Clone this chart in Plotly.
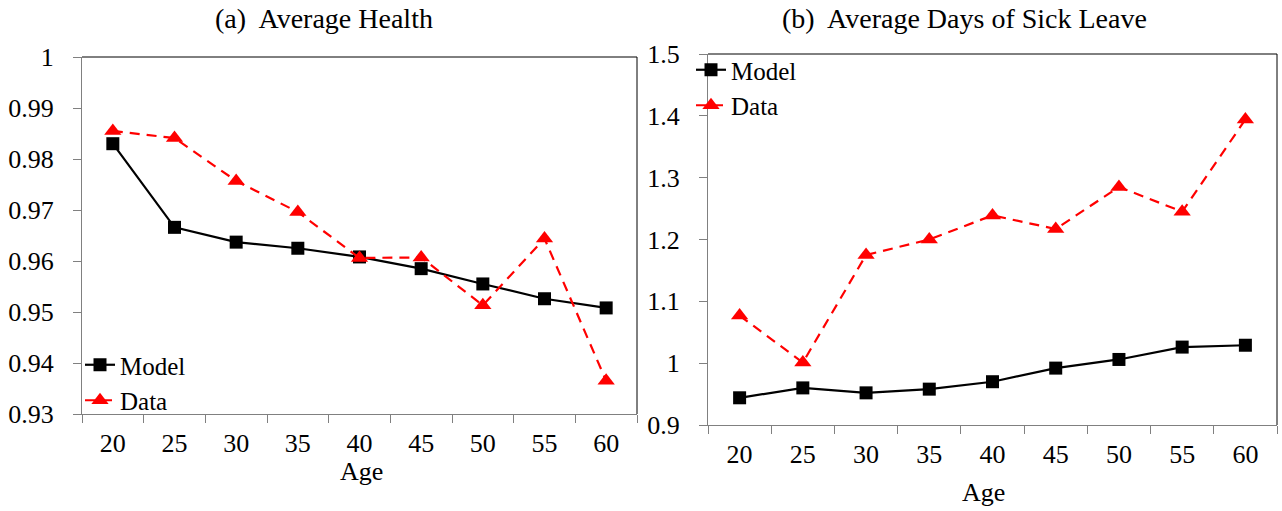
import plotly.graph_objects as go

ages = ["20", "25", "30", "35", "40", "45", "50", "55", "60"]
health_model = [0.983, 0.9666, 0.9637, 0.9625, 0.9608, 0.9585, 0.9555, 0.9526, 0.9508]
health_data = [0.9855, 0.9841, 0.9757, 0.9696, 0.9606, 0.9607, 0.9513, 0.9644, 0.9365]
sick_model = [0.944, 0.960, 0.952, 0.958, 0.970, 0.992, 1.006, 1.026, 1.029]
sick_data = [1.077, 1.001, 1.175, 1.200, 1.239, 1.217, 1.285, 1.245, 1.394]

health_ticks = [0.93, 0.94, 0.95, 0.96, 0.97, 0.98, 0.99, 1.0]
health_ticktext = ["0.93", "0.94", "0.95", "0.96", "0.97", "0.98", "0.99", "1"]
sick_ticks = [0.9, 1.0, 1.1, 1.2, 1.3, 1.4, 1.5]
sick_ticktext = ["0.9", "1", "1.1", "1.2", "1.3", "1.4", "1.5"]

W, H = 1282, 511
FONT = "Liberation Serif"
GRAY = "#808080"

fig = go.Figure()

def add_pair(xa, ya, model, data, leg):
    fig.add_trace(go.Scatter(
        x=ages, y=model, name="Model", mode="lines+markers",
        line=dict(color="black", width=2.2),
        marker=dict(symbol="square", size=13, color="black"),
        xaxis=xa, yaxis=ya, legend=leg))
    fig.add_trace(go.Scatter(
        x=ages, y=data, name="Data", mode="lines+markers",
        line=dict(color="#ff0000", width=2.2, dash="10px,7px"),
        marker=dict(symbol="triangle-up", size=15, color="#ff0000"),
        xaxis=xa, yaxis=ya, legend=leg))

add_pair("x", "y", health_model, health_data, "legend")
add_pair("x2", "y2", sick_model, sick_data, "legend2")

# pixel-based domains
L1, R1, T1, B1 = 82, 637, 57, 414
L2, R2, T2, B2 = 708, 1277, 54, 425

def xd(a, b):
    return [a / W, b / W]

def yd(t, b):
    return [(H - b) / H, (H - t) / H]

xaxis_common = dict(
    type="category", tickson="boundaries", ticks="outside", ticklen=8,
    tickcolor=GRAY, showline=True, linecolor=GRAY, linewidth=1,
    showgrid=False, zeroline=False, range=[-0.5, 8.5], automargin=False,
    tickfont=dict(family=FONT, size=26, color="black"),
    ticklabelstandoff=6,
)
yaxis_common = dict(
    ticks="outside", ticklen=8, tickcolor=GRAY, showline=True, linecolor=GRAY,
    linewidth=1, showgrid=False, zeroline=False, tickmode="array", automargin=False,
    tickfont=dict(family=FONT, size=26, color="black"),
    ticklabelstandoff=14,
)

fig.update_layout(
    width=W, height=H,
    margin=dict(l=0, r=0, t=0, b=0, pad=0, autoexpand=False),
    paper_bgcolor="white", plot_bgcolor="white",
    xaxis=dict(domain=xd(L1, R1), anchor="y", **xaxis_common),
    yaxis=dict(domain=yd(T1, B1), anchor="x", range=[0.93, 1.0],
               tickvals=health_ticks, ticktext=health_ticktext, **yaxis_common),
    xaxis2=dict(domain=xd(L2, R2), anchor="y2", **xaxis_common),
    yaxis2=dict(domain=yd(T2, B2), anchor="x2", range=[0.9, 1.5],
                tickvals=sick_ticks, ticktext=sick_ticktext, **yaxis_common),
    legend=dict(x=(L1 - 2) / W, y=(H - 342) / H, xanchor="left", yanchor="top",
                bgcolor="rgba(0,0,0,0)", font=dict(family=FONT, size=25, color="black"),
                itemwidth=30, tracegroupgap=0),
    legend2=dict(x=(L2 - 17) / W, y=(H - 47) / H, xanchor="left", yanchor="top",
                 bgcolor="rgba(0,0,0,0)", font=dict(family=FONT, size=25, color="black"),
                 itemwidth=30, tracegroupgap=0),
    showlegend=True,
)

# black top/right frame
for (l, r, t, b) in [(L1, R1, T1, B1), (L2, R2, T2, B2)]:
    fig.add_shape(type="line", xref="paper", yref="paper",
                  x0=l / W, x1=r / W, y0=(H - t) / H, y1=(H - t) / H,
                  line=dict(color="black", width=1))
    fig.add_shape(type="line", xref="paper", yref="paper",
                  x0=r / W, x1=r / W, y0=(H - t) / H, y1=(H - b) / H,
                  line=dict(color="black", width=1))

def ann(text, xpx, ypx, size):
    fig.add_annotation(text=text, x=xpx / W, y=(H - ypx) / H, xref="paper", yref="paper",
                       xanchor="center", yanchor="middle", showarrow=False,
                       font=dict(family=FONT, size=size, color="black"))

ann("(a)  Average Health", 324, 18, 28)
ann("(b)  Average Days of Sick Leave", 964, 18, 28)
ann("Age", 361, 471, 26)
ann("Age", 983, 492, 26)

fig.write_html("out.html")
